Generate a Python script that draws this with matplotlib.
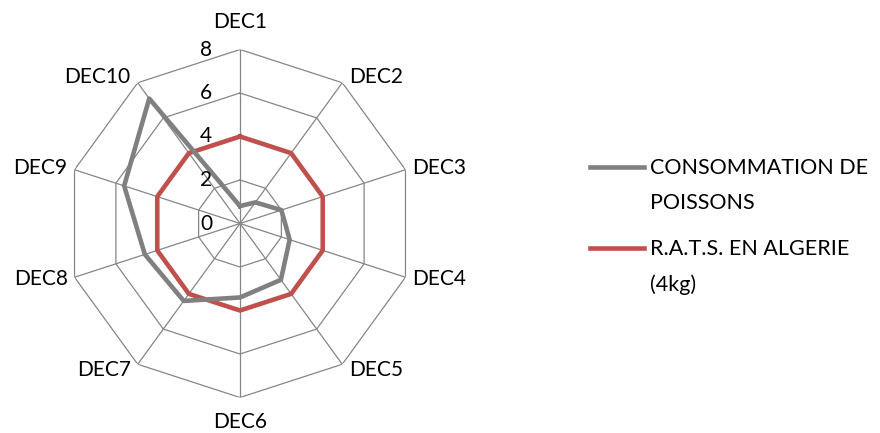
import numpy as np
import matplotlib
matplotlib.use("Agg")
import matplotlib.pyplot as plt
from matplotlib.lines import Line2D
from matplotlib.legend_handler import HandlerLine2D

# Consommation de poissons par décile, comparée à la ration R.A.T.S. (4 kg)
categories = ["DEC1", "DEC2", "DEC3", "DEC4", "DEC5",
              "DEC6", "DEC7", "DEC8", "DEC9", "DEC10"]
consommation = [0.8, 1.2, 2.0, 2.4, 3.2, 3.4, 4.4, 4.6, 5.6, 7.1]
rats_algerie = [4, 4, 4, 4, 4, 4, 4, 4, 4, 4]
rings = [0, 2, 4, 6, 8]
series_labels = ["CONSOMMATION DE\nPOISSONS", "R.A.T.S. EN ALGERIE\n(4kg)"]

plt.rcParams["font.family"] = ["Lato", "DejaVu Sans"]
FS = 15
GRID = "#868686"
GREY = "#808080"
RED = "#C0504D"


class FirstLineHandler(HandlerLine2D):
    """Legend swatch aligned with the first line of a two-line label."""
    def __init__(self, shift, **kw):
        super().__init__(**kw)
        self.shift = shift

    def create_artists(self, legend, orig_handle, xdescent, ydescent,
                       width, height, fontsize, trans):
        arts = super().create_artists(legend, orig_handle, xdescent, ydescent,
                                      width, height, fontsize, trans)
        for a in arts:
            a.set_ydata(np.asarray(a.get_ydata()) + self.shift)
        return arts


fig = plt.figure(figsize=(8.8, 4.33), dpi=100)
cx, cy, R = 240, 433 - 223.5, 174
ax = fig.add_axes([(cx - R) / 880, (cy - R) / 433, 2 * R / 880, 2 * R / 433],
                  projection="polar")
ax.set_theta_offset(np.pi / 2)
ax.set_theta_direction(-1)

n = len(categories)
theta = np.arange(n) * 2 * np.pi / n
closed = np.append(theta, theta[0])

# decagon grid and spokes
for r in rings[1:]:
    ax.plot(closed, [r] * (n + 1), color=GRID, lw=0.9, zorder=1)
for t in theta:
    ax.plot([t, t], [rings[0], rings[-1]], color=GRID, lw=0.9, zorder=1)

h1, = ax.plot(closed, consommation + consommation[:1], color=GREY, lw=3.3,
              solid_joinstyle="round", zorder=3)
h2, = ax.plot(closed, rats_algerie + rats_algerie[:1], color=RED, lw=3.3,
              solid_joinstyle="round", zorder=2)

ax.set_ylim(rings[0], rings[-1])
ax.grid(False)
ax.set_xticks([])
ax.set_yticks([])
ax.spines["polar"].set_visible(False)
ax.patch.set_alpha(0)

# category labels outside each vertex
for t, cat in zip(theta, categories):
    s, c = np.sin(t), np.cos(t)
    if abs(s) < 1e-6:
        ha, dx, dy = "center", 0, (27 if c > 0 else -24)
    else:
        ha = "left" if s > 0 else "right"
        dx, dy = 7 * np.sign(s), 7 * c
    ax.annotate(cat, xy=(t, rings[-1]), xytext=(dx, dy),
                textcoords="offset pixels", ha=ha, va="center", fontsize=FS)

# radial value labels
for r in rings:
    ax.annotate(str(r), xy=(0, r), xytext=(-34, 0), textcoords="offset pixels",
                ha="center", va="center", fontsize=FS)

leg = ax.legend([h1, h2], series_labels, loc="upper left",
                bbox_to_anchor=(590 / 880, (433 - 158) / 433),
                bbox_transform=fig.transFigure, frameon=False, fontsize=15.5,
                borderpad=0, borderaxespad=0, handlelength=2.5,
                handletextpad=0.3, labelspacing=1.2,
                handler_map={Line2D: FirstLineHandler(13.7)})
for txt in leg.get_texts():
    txt.set_linespacing(1.93)

fig.savefig("out.png", dpi=100)
